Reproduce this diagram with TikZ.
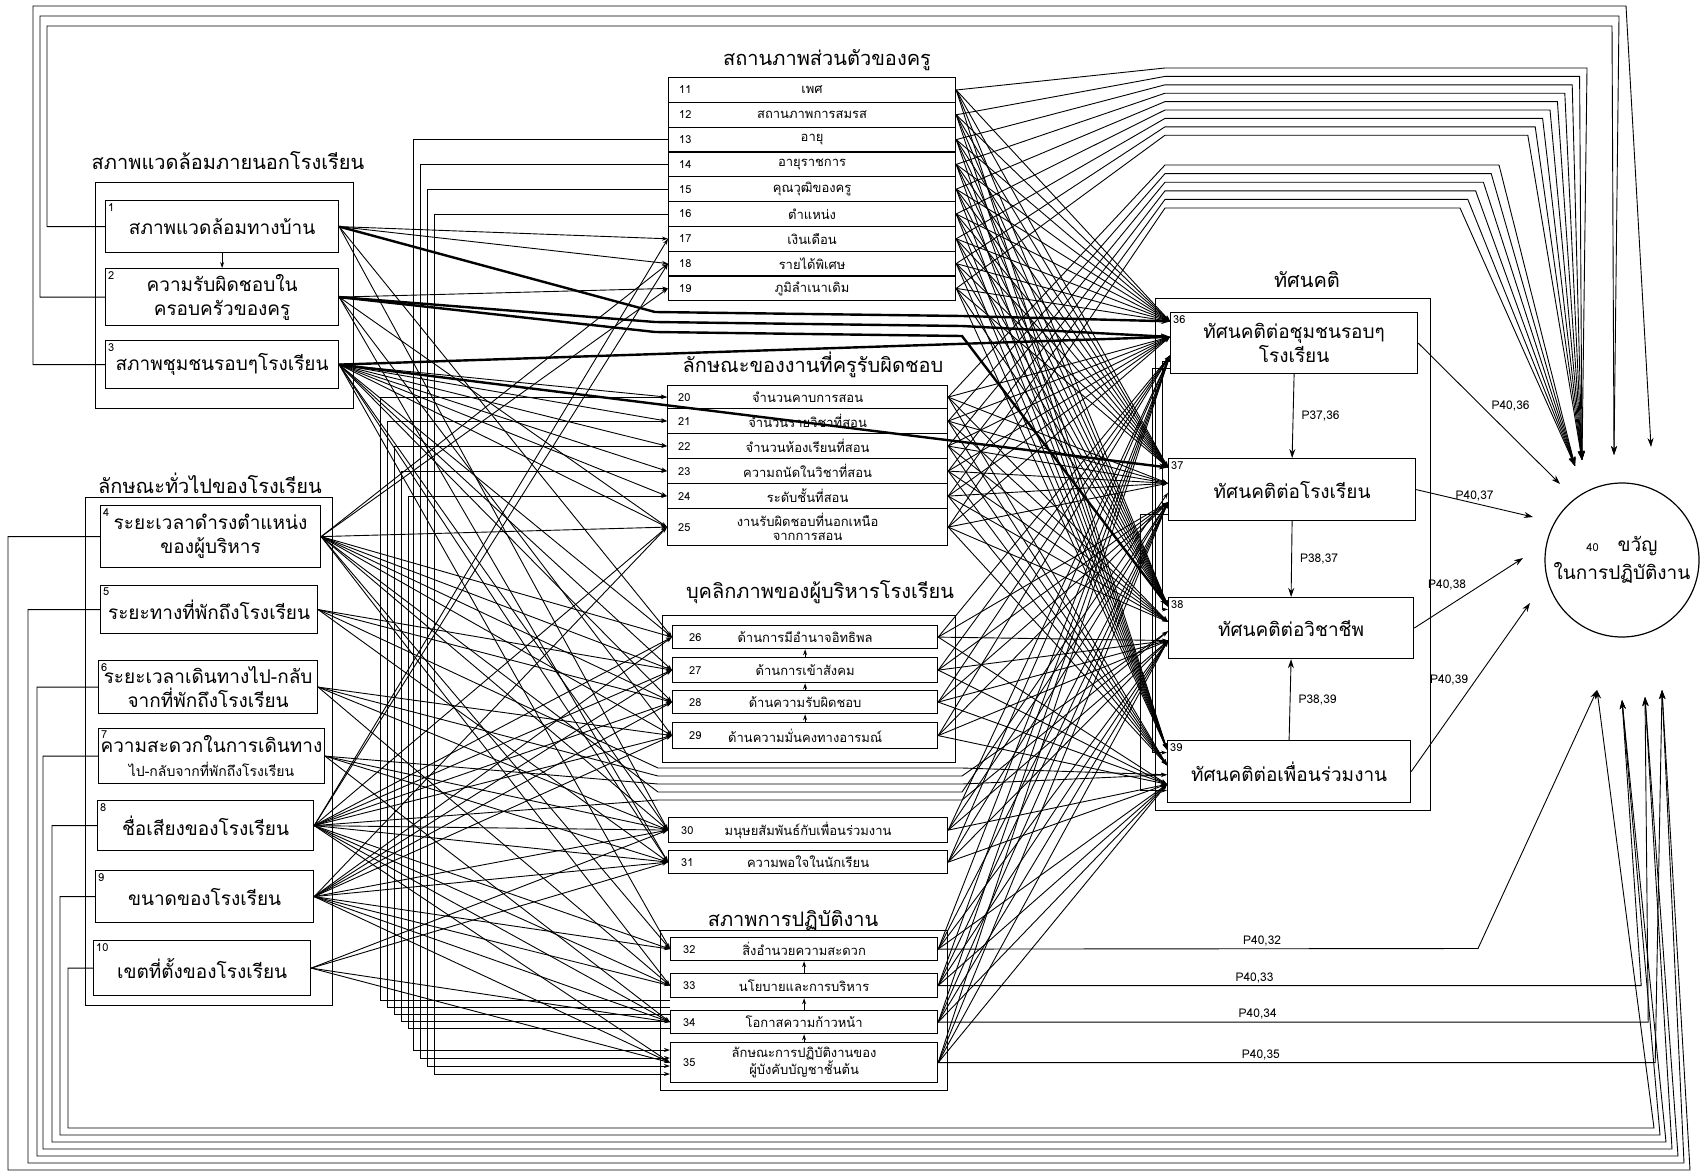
\documentclass[tikz,border=0pt]{standalone}
\usepackage{fontspec}
\setmainfont[Script=Thai]{Loma}
\usetikzlibrary{arrows.meta,calc}
\begin{document}
\begin{tikzpicture}[x=1pt,y=-1pt,
 bx/.style={draw,line width=1.2pt,rectangle,inner sep=2pt,anchor=north west,align=center,fill=white},
 frm/.style={draw,line width=1.2pt,rectangle,inner sep=0pt,anchor=north west},
 big/.style={font=\fontsize{19}{24}\selectfont},
 rowt/.style={font=\fontsize{13}{14}\selectfont},
 ttl/.style={font=\fontsize{20}{24}\selectfont},
 numl/.style={font=\fontsize{11}{12}\selectfont,inner sep=3pt},
 ln/.style={line width=0.9pt},
 thk/.style={line width=2.4pt},
 arr/.style={-{Stealth[length=9pt,width=6pt]}},
 sarr/.style={-{Stealth[length=6pt,width=4pt]}},
 plab/.style={font=\fontsize{12}{13}\selectfont,inner sep=2pt}
]
\useasboundingbox (0,0) rectangle (1702,1172);
\fill[white] (0,0) rectangle (1702,1172);

% ---------- group frames and titles
\node[frm,minimum width=258pt,minimum height=226pt] (gA) at (95,182) {};
\node[ttl] (tA) at (228,161) {สภาพแวดล้อมภายนอกโรงเรียน};
\node[frm,minimum width=247pt,minimum height=508pt] (gB) at (85,497) {};
\node[ttl] (tB) at (210,483) {ลักษณะทั่วไปของโรงเรียน};
\node[ttl] (t1) at (827,60) {สถานภาพส่วนตัวของครู};
\node[ttl] (t2) at (813,365) {ลักษณะของงานที่ครูรับผิดชอบ};
\node[frm,minimum width=293pt,minimum height=147pt] (g3) at (662,615) {};
\node[ttl] (t3) at (820,592) {บุคลิกภาพของผู้บริหารโรงเรียน};
\node[frm,minimum width=287pt,minimum height=160pt] (g4) at (660,930) {};
\node[ttl] (t4) at (793,920) {สภาพการปฏิบัติงาน};
\node[frm,minimum width=275pt,minimum height=512pt] (gR) at (1155,298) {};
\node[ttl] (tR) at (1307,280) {ทัศนคติ};

% ---------- left boxes
\node[bx,big,minimum width=233pt,minimum height=52pt,label={[numl,anchor=north west]north west:1}] (b1) at (105,200) {สภาพแวดล้อมทางบ้าน};
\node[bx,big,minimum width=233pt,minimum height=57pt,label={[numl,anchor=north west]north west:2}] (b2) at (105,268) {ความรับผิดชอบใน\\ครอบครัวของครู};
\node[bx,big,minimum width=233pt,minimum height=48pt,label={[numl,anchor=north west]north west:3}] (b3) at (105,340) {สภาพชุมชนรอบๆโรงเรียน};
\node[bx,big,minimum width=220pt,minimum height=62pt,label={[numl,anchor=north west]north west:4}] (b4) at (100,505) {ระยะเวลาดำรงตำแหน่ง\\ของผู้บริหาร};
\node[bx,big,minimum width=217pt,minimum height=48pt,label={[numl,anchor=north west]north west:5}] (b5) at (100,585) {ระยะทางที่พักถึงโรงเรียน};
\node[bx,big,minimum width=219pt,minimum height=53pt,label={[numl,anchor=north west]north west:6}] (b6) at (98,660) {ระยะเวลาเดินทางไป-กลับ\\จากที่พักถึงโรงเรียน};
\node[bx,big,minimum width=217pt,minimum height=55pt,label={[numl,anchor=north west]north west:7}] (b7) at (98,728) {ความสะดวกในการเดินทาง\\{\fontsize{14}{16}\selectfont ไป-กลับจากที่พักถึงโรงเรียน}};
\node[bx,big,minimum width=216pt,minimum height=50pt,label={[numl,anchor=north west]north west:8}] (b8) at (97,800) {ชื่อเสียงของโรงเรียน};
\node[bx,big,minimum width=218pt,minimum height=52pt,label={[numl,anchor=north west]north west:9}] (b9) at (95,870) {ขนาดของโรงเรียน};
\node[bx,big,minimum width=217pt,minimum height=55pt,label={[numl,anchor=north west]north west:10}] (b10) at (93,940) {เขตที่ตั้งของโรงเรียน};

% ---------- table 1
\foreach \n/\t [count=\i from 0] in {11/เพศ,12/สถานภาพการสมรส,13/อายุ,14/อายุราชการ,15/คุณวุฒิของครู,16/ตำแหน่ง,17/เงินเดือน,18/รายได้พิเศษ,19/ภูมิลำเนาเดิม}
  \node[bx,rowt,inner sep=0pt,minimum width=287pt,minimum height=24.8pt,label={[numl,anchor=west,xshift=8pt]west:\n}] (r\n) at (668,{77+24.8*\i}) {\t};
% ---------- table 2
\foreach \n/\y/\h/\t in {20/385/23/จำนวนคาบการสอน,21/408/25/จำนวนรายวิชาที่สอน,22/433/25/จำนวนห้องเรียนที่สอน,23/458/25/ความถนัดในวิชาที่สอน,24/483/25/ระดับชั้นที่สอน,25/508/37/งานรับผิดชอบที่นอกเหนือ\\จากการสอน}
  \node[bx,rowt,inner sep=0pt,minimum width=280pt,minimum height=\h pt,label={[numl,anchor=west,xshift=8pt]west:\n}] (r\n) at (667,\y) {\t};
% ---------- group 3
\foreach \n/\y/\h/\t in {26/625/23/ด้านการมีอำนาจอิทธิพล,27/657/25/ด้านการเข้าสังคม,28/690/23/ด้านความรับผิดชอบ,29/722/26/ด้านความมั่นคงทางอารมณ์}
  \node[bx,rowt,inner sep=0pt,minimum width=265pt,minimum height=\h pt,label={[numl,anchor=west,xshift=14pt]west:\n}] (r\n) at (672,\y) {\t};
\foreach \n/\y/\h/\t in {30/817/25/มนุษยสัมพันธ์กับเพื่อนร่วมงาน,31/850/23/ความพอใจในนักเรียน}
  \node[bx,rowt,inner sep=0pt,minimum width=279pt,minimum height=\h pt,label={[numl,anchor=west,xshift=10pt]west:\n}] (r\n) at (668,\y) {\t};
% ---------- group 4
\foreach \n/\y/\h/\t in {32/937/23/สิ่งอำนวยความสะดวก,33/973/24/นโยบายและการบริหาร,34/1010/23/โอกาสความก้าวหน้า,35/1042/40/ลักษณะการปฏิบัติงานของ\\ผู้บังคับบัญชาชั้นต้น}
  \node[bx,rowt,inner sep=0pt,minimum width=267pt,minimum height=\h pt,label={[numl,anchor=west,xshift=10pt]west:\n}] (r\n) at (670,\y) {\t};

% ---------- right group
\node[bx,big,minimum width=247pt,minimum height=61pt,label={[numl,anchor=north west]north west:36}] (b36) at (1170,312) {ทัศนคติต่อชุมชนรอบๆ\\โรงเรียน};
\node[bx,big,minimum width=247pt,minimum height=62pt,label={[numl,anchor=north west]north west:37}] (b37) at (1168,458) {ทัศนคติต่อโรงเรียน};
\node[bx,big,minimum width=245pt,minimum height=61pt,label={[numl,anchor=north west]north west:38}] (b38) at (1168,597) {ทัศนคติต่อวิชาชีพ};
\node[bx,big,minimum width=243pt,minimum height=62pt,label={[numl,anchor=north west]north west:39}] (b39) at (1167,740) {ทัศนคติต่อเพื่อนร่วมงาน};

% ---------- outcome
\node[draw,circle,line width=1.2pt,minimum size=154pt,inner sep=0pt,align=center,big] (c40) at (1622,560) {{\fontsize{11}{12}\selectfont 40}\quad ขวัญ\\[4pt]ในการปฏิบัติงาน};

% arrow tips near outcome
\coordinate (tA) at (1582,460);
\coordinate (tA2) at (1575,466);
\coordinate (tB) at (1614,455);
\coordinate (tC) at (1651,447);
\coordinate (tD) at (1597,690);
\coordinate (tE) at (1622,700);
\coordinate (tF) at (1645,697);
\coordinate (tG) at (1662,690);
\coordinate (t36) at (1560,484);
\coordinate (t37) at (1533,517);
\coordinate (t38) at (1523,558);
\coordinate (t39) at (1530,603);

% ---------- internal arrows
\draw[ln,sarr] (b1.south) -- (b2.north);
\foreach \a/\b in {27/26,28/27,29/28,33/32,34/33,35/34}
  \draw[ln,sarr] (r\a.north) -- (r\b.south);
\draw[ln,arr] (b36.south) -- node[plab,right=6pt] {P37,36} (b37.north);
\draw[ln,arr] (b37.south) -- node[plab,right=6pt] {P38,37} (b38.north);
\draw[ln,arr] (b39.north) -- node[plab,right=6pt] {P38,39} (b38.south);
\draw[ln,sarr] ($(b36.south west)!0.2!(b36.north west)$) -- ++(-8,0) |- ($(b38.south west)!0.8!(b38.north west)$);
\draw[ln,sarr] ($(b36.south west)!0.1!(b36.north west)$) -- ++(-18,0) |- ($(b39.south west)!0.8!(b39.north west)$);
\draw[ln,sarr] ($(b37.south west)!0.1!(b37.north west)$) -- ++(-28,0) |- ($(b39.south west)!0.2!(b39.north west)$);

% ---------- attitudes to outcome
\draw[ln,arr] (b36.east) -- node[plab,anchor=south west,pos=0.5] {P40,36} (t36);
\draw[ln,arr] (b37.east) -- node[plab,above,pos=0.5] {P40,37} (t37);
\draw[ln,arr] (b38.east) -- node[plab,anchor=south east,pos=0.5] {P40,38} (t38);
\draw[ln,arr] (b39.east) -- node[plab,anchor=south east,pos=0.5] {P40,39} (t39);

% ---------- working conditions to outcome
\draw[ln,arr] (r32.east) -- node[plab,above,pos=0.6] {P40,32} (1478,948.5) -- (tD);
\draw[ln,arr] (r33.east) -- node[plab,above,pos=0.45] {P40,33} ++(703,0) -- (tE);
\draw[ln,arr] (r34.east) -- node[plab,above,pos=0.45] {P40,34} ++(710,0) -- (tF);
\draw[ln,arr] (r35.east) -- node[plab,above,pos=0.45] {P40,35} ++(717,0) -- (tG);

% ---------- top feedback loops
\draw[ln,arr] (b3.west) -| (33,6) -- (1626,6) -- (tC);
\draw[ln,arr] (b2.west) -| (40,16) -- (1619,16) -- (tB);
\draw[ln,arr] (b1.west) -| (47,26) -- (1612,26) -- (tB);

% ---------- bottom feedback loops
\foreach \b/\xl/\yb/\xr/\tp in {4/8/1170/1690/tG,5/28/1163/1684/tG,6/37/1156/1678/tF,7/43/1149/1672/tF,8/52/1142/1666/tE,9/60/1135/1660/tE,10/68/1128/1654/tD}
  \draw[ln,arr] (b\b.west) -| (\xl,\yb) -- (\xr,\yb) -- (\tp);

% ---------- personal status and job to outcome (over the top)
\foreach \s [count=\k from 0] in {11,...,19}
  \draw[ln,arr] (r\s.east) -- (1165,{68+8.4*\k}) -- ({1587-7.4*\k},{68+8.4*\k}) -- (tA);
\foreach \s [count=\k from 0] in {20,...,25}
  \draw[ln,arr] (r\s.east) -- (1165,{165+8.6*\k}) -- ({1499-7.8*\k},{165+8.6*\k}) -- (tA2);

% ---------- mesh: middle variables to attitudes
\foreach \s in {11,...,35}{
  \pgfmathsetmacro{\f}{\s<20 ? 0.15 : (\s<26 ? 0.4 : 0.7)}
  \foreach \t in {36,...,39}
    \draw[ln,sarr] (r\s.east) -- ($(b\t.north west)!\f!(b\t.south west)$);
}

% ---------- thick paths from home environment to attitudes
\draw[thk,arr] (b1.east) -- (655,312) -- (962,316) -- ($(b36.north west)!0.15!(b36.south west)$);
\draw[thk,arr] (b2.east) -- (655,322) -- (962,326) -- ($(b36.north west)!0.4!(b36.south west)$);
\draw[thk,arr] (b2.east) -- (655,332) -- (962,336) -- ($(b38.north west)!0.15!(b38.south west)$);
\draw[thk,arr] (b3.east) -- ($(b36.north west)!0.4!(b36.south west)$);
\draw[thk,arr] (b3.east) -- ($(b37.north west)!0.15!(b37.south west)$);

% ---------- school background through the gap under the executive box
\foreach \s/\yy/\t in {5/768/39,6/776/38,7/784/39,4/792/37,8/800/38}
  \draw[ln,sarr] (b\s.east) -- (658,\yy) -- (962,\yy) -- ($(b\t.north west)!0.55!(b\t.south west)$);

% ---------- fans from background variables to middle variables
\foreach \s/\tl in {1/{17,18,26,30},2/{19,25,29,31},3/{20,21,22,23,24,25,26,27,28,30,31,32},4/{18,19,25,26,27,28,29,30,32,33},5/{27,28,31},6/{29,30,33},7/{30,31,34},8/{17,18,25,26,27,28,29,30,31,32,33,34,35},9/{25,26,27,28,29,30,31,32,33,34,35},10/{30,31,34,35}}
  \foreach \t in \tl
    \draw[ln,sarr] (b\s.east) -- (r\t.west);

% ---------- channels on the left of the tables
\foreach \s/\cx/\yb in {13/413/1050,14/420/1058,15/427/1066,16/434/1074}
  \draw[ln,sarr] (r\s.west) -| (\cx,\yb) -- (r35.west |- 0,\yb);
\foreach \s/\cx/\yb in {20/380/1000,21/387/1007,22/394/1014,23/401/1021,24/408/1028}
  \draw[ln,sarr] (r34.west |- 0,\yb) -- (\cx,\yb) |- (r\s.west);

\end{tikzpicture}
\end{document}
